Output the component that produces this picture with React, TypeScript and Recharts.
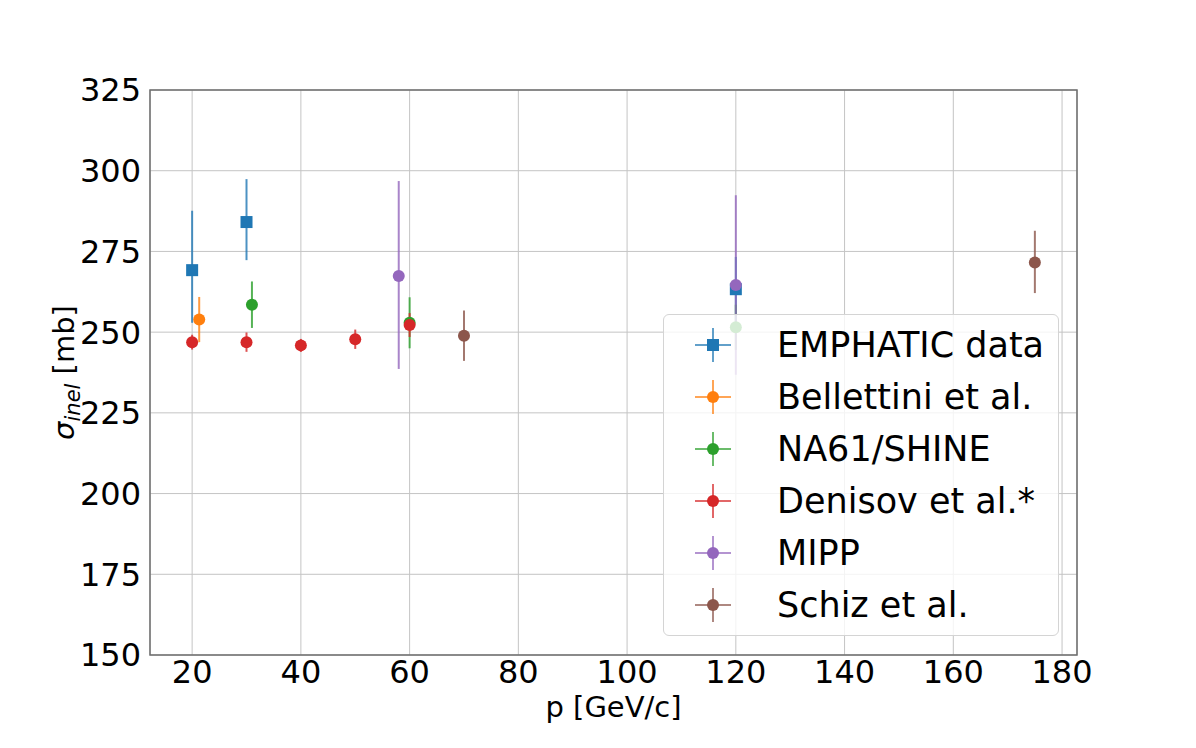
import {
  CartesianGrid,
  ErrorBar,
  Legend,
  ReferenceArea,
  Scatter,
  ScatterChart,
  XAxis,
  YAxis,
} from 'recharts'

// momentum [GeV/c], sigma_inel [mb], error [down, up] [mb]
const emphaticP = [20, 30, 120]
const emphaticSigma = [269.2, 284.1, 263.3]
const emphaticErr = [[16.3, 18.4], [11.8, 13.3], [10, 10]]

const bellettiniP = [21.3]
const bellettiniSigma = [253.9]
const bellettiniErr = [[7, 7]]

const na61P = [31, 60, 120]
const na61Sigma = [258.5, 252.9, 251.5]
const na61Err = [[7.2, 7.2], [7.9, 7.9], [7, 7]]

const denisovP = [20, 30, 40, 50, 60]
const denisovSigma = [246.9, 246.9, 245.9, 247.8, 252.2]
const denisovErr = [[2.3, 2.3], [3, 3], [2, 2], [3, 3], [3.7, 3.7]]

const mippP = [58, 120]
const mippSigma = [267.4, 264.6]
const mippErr = [[28.8, 29.4], [27.8, 27.8]]

const schizP = [70, 175]
const schizSigma = [248.9, 271.6]
const schizErr = [[7.8, 7.8], [9.5, 9.8]]

const xTicks = [20, 40, 60, 80, 100, 120, 140, 160, 180]
const yTicks = [150, 175, 200, 225, 250, 275, 300, 325]
const xDomain: [number, number] = [12.25, 182.75]
const yDomain: [number, number] = [150, 325]

const toRows = (p: number[], s: number[], e: number[][]) =>
  p.map((x, i) => ({ p: x, sigma: s[i], err: e[i] }))

const series = [
  { name: 'EMPHATIC data', color: '#1f77b4', square: true, data: toRows(emphaticP, emphaticSigma, emphaticErr) },
  { name: 'Bellettini et al.', color: '#ff7f0e', square: false, data: toRows(bellettiniP, bellettiniSigma, bellettiniErr) },
  { name: 'NA61/SHINE', color: '#2ca02c', square: false, data: toRows(na61P, na61Sigma, na61Err) },
  { name: 'Denisov et al.*', color: '#d62728', square: false, data: toRows(denisovP, denisovSigma, denisovErr) },
  { name: 'MIPP', color: '#9467bd', square: false, data: toRows(mippP, mippSigma, mippErr) },
  { name: 'Schiz et al.', color: '#8c564b', square: false, data: toRows(schizP, schizSigma, schizErr) },
]

const font = 'DejaVu Sans, sans-serif'

function marker(color: string, square: boolean) {
  return (props: any) => {
    const { cx, cy } = props
    if (cx == null || cy == null) return <g />
    return square ? (
      <rect x={cx - 6} y={cy - 6} width={12} height={12} fill={color} />
    ) : (
      <circle cx={cx} cy={cy} r={6} fill={color} />
    )
  }
}

function LegendBox() {
  return (
    <div
      style={{
        boxSizing: 'border-box',
        width: 396,
        height: 322,
        paddingTop: 4,
        background: 'rgba(255,255,255,0.8)',
        border: '1px solid #d4d4d4',
        borderRadius: 6,
        fontFamily: font,
        fontSize: 35,
        color: '#000',
      }}
    >
      {series.map(s => (
        <div key={s.name} style={{ height: 52, position: 'relative' }}>
          <svg width={100} height={52} style={{ position: 'absolute', left: 0, top: 0 }}>
            <line x1={31} x2={67} y1={26} y2={26} stroke={s.color} strokeOpacity={0.7} strokeWidth={2} />
            <line x1={49} x2={49} y1={9} y2={43} stroke={s.color} strokeOpacity={0.7} strokeWidth={2} />
            {s.square ? (
              <rect x={43} y={20} width={12} height={12} fill={s.color} />
            ) : (
              <circle cx={49} cy={26} r={6} fill={s.color} />
            )}
          </svg>
          <span style={{ position: 'absolute', left: 113, top: 0, lineHeight: '52px', whiteSpace: 'nowrap' }}>{s.name}</span>
        </div>
      ))}
    </div>
  )
}

function YLabel(props: any) {
  const { viewBox } = props
  const x = 74
  const y = viewBox.y + viewBox.height / 2
  return (
    <text x={x} y={y} transform={`rotate(-90, ${x}, ${y})`} textAnchor="middle" fontFamily={font} fontSize={29} fill="#000">
      <tspan fontStyle="italic">σ</tspan>
      <tspan fontStyle="italic" fontSize={21} dy={6}>inel</tspan>
      <tspan dy={-6}> [mb]</tspan>
    </text>
  )
}

function XLabel(props: any) {
  const { viewBox } = props
  return (
    <text x={viewBox.x + viewBox.width / 2} y={viewBox.y + 62} textAnchor="middle" fontFamily={font} fontSize={29} fill="#000">
      p [GeV/c]
    </text>
  )
}

export default function App() {
  return (
    <div style={{ position: 'absolute', left: 0, top: 0, width: 1196, height: 748, background: '#fff' }}>
      <ScatterChart width={1196} height={748} margin={{ top: 90, right: 119, bottom: 33, left: 0 }}>
        <CartesianGrid stroke="#c4c4c4" strokeWidth={1} />
        <XAxis
          type="number"
          dataKey="p"
          domain={xDomain}
          ticks={xTicks}
          allowDataOverflow
          height={60}
          axisLine={false}
          tickLine={false}
          tickSize={0}
          tickMargin={5}
          tick={{ fill: '#000', fontSize: 32, fontFamily: font }}
          label={<XLabel />}
        />
        <YAxis
          type="number"
          dataKey="sigma"
          domain={yDomain}
          ticks={yTicks}
          allowDataOverflow
          width={150}
          axisLine={false}
          tickLine={false}
          tickSize={0}
          tickMargin={9}
          tick={{ fill: '#000', fontSize: 32, fontFamily: font }}
          label={<YLabel />}
        />
        <ReferenceArea
          x1={xDomain[0]}
          x2={xDomain[1]}
          y1={yDomain[0]}
          y2={yDomain[1]}
          fill="none"
          stroke="#6e6e6e"
          strokeWidth={1.5}
          ifOverflow="visible"
        />
        {series.map(s => (
          <Scatter
            key={s.name}
            name={s.name}
            data={s.data}
            fill={s.color}
            shape={marker(s.color, s.square)}
            isAnimationActive={false}
          >
            <ErrorBar dataKey="err" direction="y" width={0} stroke={s.color} strokeOpacity={0.8} strokeWidth={2} isAnimationActive={false} />
          </Scatter>
        ))}
        <Legend
          layout="vertical"
          align="center"
          verticalAlign="middle"
          content={() => <LegendBox />}
          wrapperStyle={{ position: 'absolute', left: 663, top: 314, width: 396, height: 322 }}
        />
      </ScatterChart>
    </div>
  )
}
